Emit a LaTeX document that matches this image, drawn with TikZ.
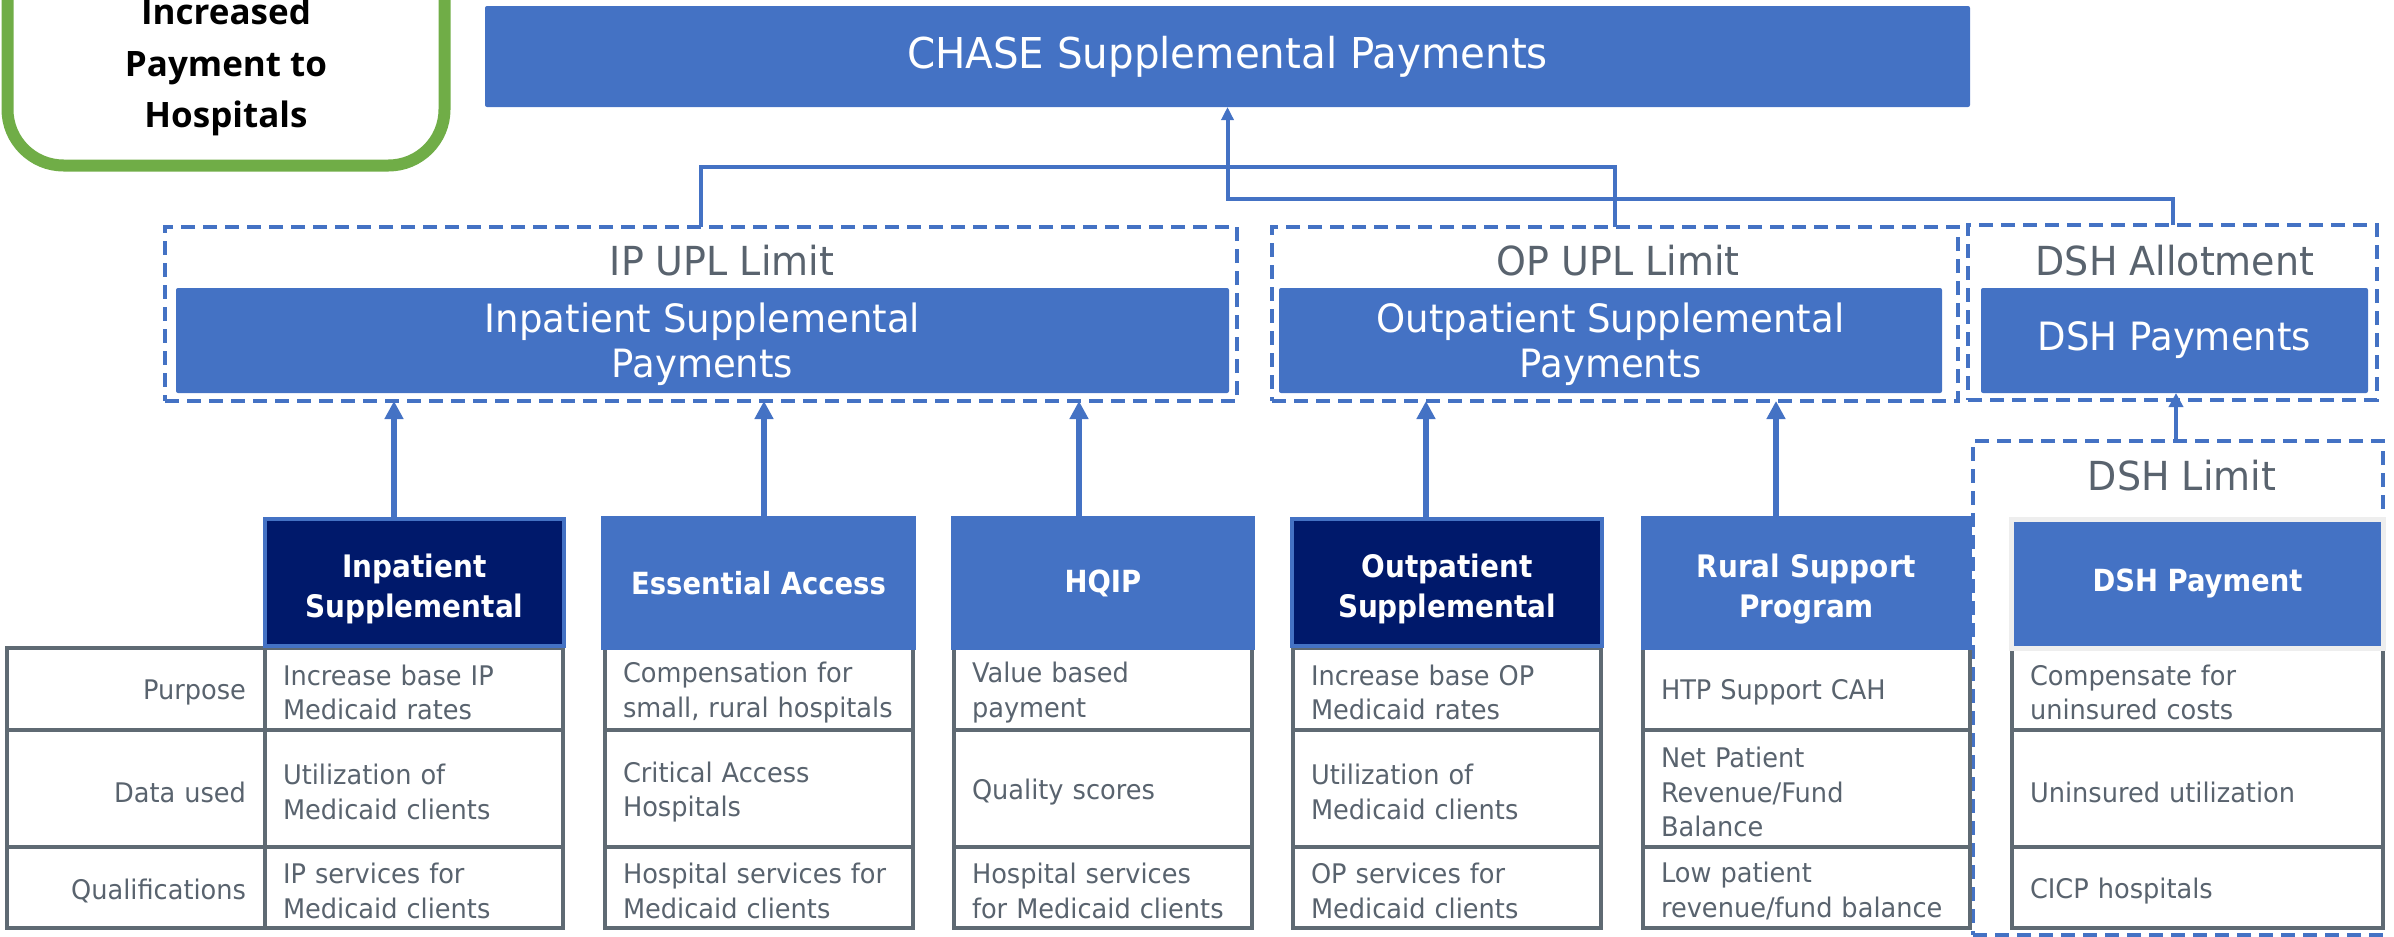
\documentclass[tikz,border=0pt]{standalone}
\usepackage{fontspec}
\setmainfont{DejaVu Sans}[FakeStretch=0.95]
\newfontfamily\headfont{DejaVu Sans Bold}[FakeStretch=0.9]
\newfontfamily\calloutfont{Open Sans}
\usetikzlibrary{arrows.meta}

\definecolor{chblue}{HTML}{4472C4}
\definecolor{chnavy}{HTML}{00196B}
\definecolor{chtext}{HTML}{59636E}
\definecolor{chrule}{HTML}{5F6A73}
\definecolor{chgreen}{HTML}{70AD47}
\definecolor{chframe}{HTML}{EEEEEE}

\newcommand\fsz[2]{\fontsize{#1}{#2}\selectfont}
% zero-width strut that sets the height of a first text line
\newcommand\toprule[1]{\rule{0pt}{#1}}

% one program column of the comparison table: name, left x, width, text width, three rows
\newcommand\tcolumn[7]{%
  \node[cell, minimum width=#3pt, text width=#4pt, minimum height=82pt] (#1a) at (#2,648) {\toprule{27.5pt}#5};
  \node[cell, minimum width=#3pt, text width=#4pt, minimum height=117pt] (#1b) at (#2,730) {\toprule{27.5pt}#6};
  \node[cell, minimum width=#3pt, text width=#4pt, minimum height=81pt] (#1c) at (#2,847) {\toprule{27.5pt}#7};}

\begin{document}
\begin{tikzpicture}[x=1pt,y=-1pt,
  every node/.style={inner sep=0pt, outer sep=0pt},
  bluebox/.style={fill=chblue, rounded corners=2pt, text=white, align=center},
  limitbox/.style={draw=chblue, line width=3.5pt, dash pattern=on 14pt off 8pt},
  limitlabel/.style={text=chtext, font=\fsz{40}{48}},
  headbox/.style={fill=chblue, text=white, font=\headfont\fsz{30.5}{41}, align=center},
  twoline/.style={font=\headfont\fsz{31}{40.5}},
  darkhead/.style={fill=chnavy, draw=chblue, line width=4pt, text=white, font=\headfont\fsz{31}{40.5}, align=center},
  cell/.style={draw=chrule, line width=3.5pt, anchor=north west, text=chtext, font=\fsz{27}{34.5}, align=left, inner xsep=18pt},
  link/.style={draw=chblue, line width=4pt},
  uparrow/.style={draw=chblue, line width=6pt, -{Triangle[length=18pt,width=18pt]}},
]
\path[use as bounding box] (0,0) rectangle (2394,937);
\clip (0,0) rectangle (2394,937);

% call-out in the top left corner
\node[draw=chgreen, line width=12pt, rounded corners=56pt, minimum width=437pt, minimum height=245pt] (goal) at (226,43) {};
\node[text=black, font=\calloutfont\bfseries\fsz{35}{51.5}, align=center] (goaltext) at (226,67) {Increased\\Payment to\\Hospitals};

% top level
\node[bluebox, minimum width=1485pt, minimum height=101pt, font=\fsz{42.5}{50}] (title) at (1227.5,56.5) {CHASE Supplemental Payments};

% limit groups
\node[limitbox, minimum width=1072pt, minimum height=174pt] (ipupl) at (701,314) {};
\node[limitbox, minimum width=686pt, minimum height=174pt] (opupl) at (1615,314) {};
\node[limitbox, minimum width=409pt, minimum height=175pt] (dshallot) at (2172.5,312.5) {};
\node[limitbox, minimum width=410pt, minimum height=494pt] (dshlim) at (2178,688) {};

\node[limitlabel, anchor=base] (iplab) at (722,275) {IP UPL Limit};
\node[limitlabel, anchor=base] (oplab) at (1618,275) {OP UPL Limit};
\node[limitlabel, anchor=base] (allotlab) at (2175,275) {DSH Allotment};
\node[limitlabel, anchor=base] (dshlimlab) at (2182,490) {DSH Limit};

\node[bluebox, minimum width=1053pt, minimum height=105pt, font=\fsz{39}{45}] (ippay) at (702.5,340.5) {\toprule{37pt}Inpatient Supplemental\\Payments};
\node[bluebox, minimum width=663pt, minimum height=105pt, font=\fsz{39}{45}] (oppay) at (1610.5,340.5) {\toprule{37pt}Outpatient Supplemental\\Payments};
\node[bluebox, minimum width=387pt, minimum height=105pt, font=\fsz{39}{45}] (dshpay) at (2174.5,340.5) {DSH Payments};

% connectors to the top level
\coordinate (jn) at (1227.5,199);
\draw[link] (ipupl.north) -- ++(0,-60) -| (opupl.north);
\draw[link, -{Triangle[length=13pt,width=12pt]}] (dshallot.north) |- (jn) -- (title.south);

% comparison table
\node[cell, align=right, minimum width=258pt, text width=220pt, minimum height=82pt, inner xsep=19pt] (laba) at (7,648) {\toprule{27.5pt}Purpose};
\node[cell, align=right, minimum width=258pt, text width=220pt, minimum height=117pt, inner xsep=19pt] (labb) at (7,730) {\toprule{27.5pt}Data used};
\node[cell, align=right, minimum width=258pt, text width=220pt, minimum height=81pt, inner xsep=19pt] (labc) at (7,847) {\toprule{27.5pt}Qualifications};

\tcolumn{ip}{265}{298}{262}{Increase base IP\\Medicaid rates}{Utilization of\\Medicaid clients}{IP services for\\Medicaid clients}
\tcolumn{ess}{605}{308}{272}{Compensation for\\small, rural hospitals}{Critical Access\\Hospitals}{Hospital services for\\Medicaid clients}
\tcolumn{hq}{954}{298}{262}{Value based\\payment}{Quality scores}{Hospital services\\for Medicaid clients}
\tcolumn{op}{1293}{308}{272}{Increase base OP\\Medicaid rates}{Utilization of\\Medicaid clients}{OP services for\\Medicaid clients}
\tcolumn{ru}{1643}{327}{291}{HTP Support CAH}{Net Patient\\Revenue/Fund\\Balance}{Low patient\\revenue/fund balance}
\tcolumn{ds}{2012}{371}{335}{Compensate for\\uninsured costs}{Uninsured utilization}{CICP hospitals}

% program headers
\node[darkhead, minimum width=299pt, minimum height=127pt] (inph) at (414.5,582.5) {\toprule{36pt}Inpatient\\Supplemental};
\node[headbox, minimum width=315pt, minimum height=134pt] (essh) at (758.5,583) {Essential Access};
\node[headbox, minimum width=304pt, minimum height=134pt] (hqiph) at (1103,583) {HQIP};
\node[darkhead, minimum width=310pt, minimum height=127pt] (outh) at (1447,582.5) {\toprule{36pt}Outpatient\\Supplemental};
\node[headbox, twoline, minimum width=331pt, minimum height=134pt] (rurh) at (1806.5,583) {\toprule{36pt}Rural Support\\Program};
\node[headbox, draw=chframe, line width=5pt, minimum width=372pt, minimum height=128.5pt] (dshh) at (2197.5,583.75) {DSH Payment};

% arrows from programs up to their limit groups
\foreach \xa/\hd/\lm in {394/inph/ipupl, 764/essh/ipupl, 1079/hqiph/ipupl, 1426/outh/opupl, 1776/rurh/opupl} {
  \coordinate (ax) at (\xa,0);
  \draw[uparrow] (\hd.north -| ax) -- (\lm.south -| ax);
}
\coordinate (adsh) at (2176,0);
\draw[uparrow, line width=4pt, -{Triangle[length=14pt,width=14pt]}] (dshlim.north -| adsh) -- (dshpay.south -| adsh);
\end{tikzpicture}
\end{document}
